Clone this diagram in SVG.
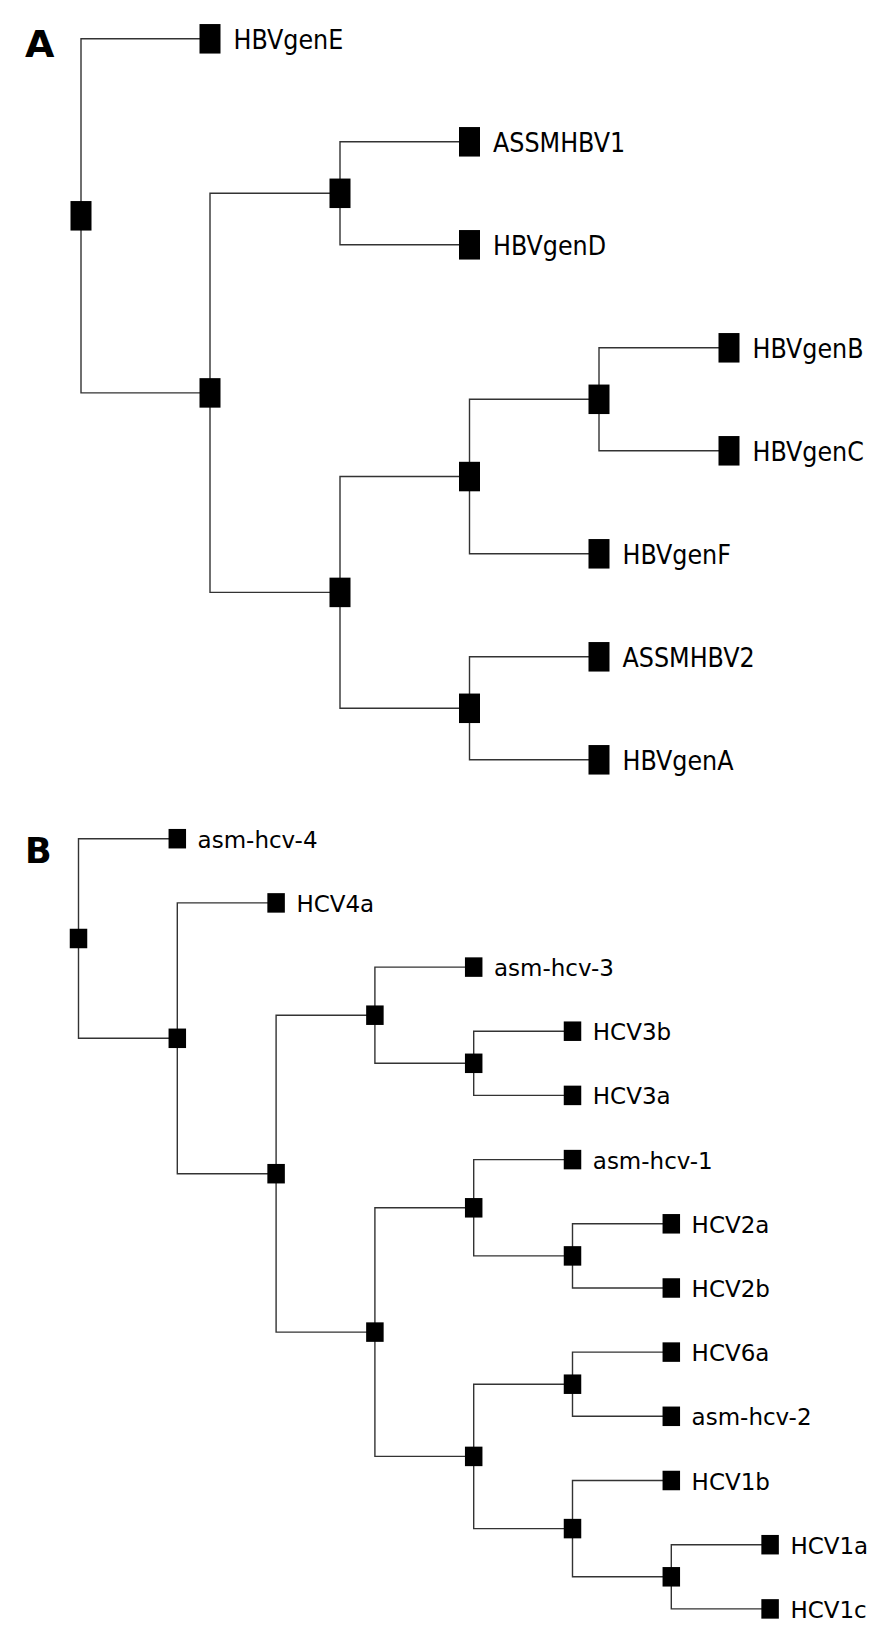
<svg xmlns="http://www.w3.org/2000/svg" width="886" height="1642" viewBox="0 0 886 1642">
<style>
.bg{fill:#fff}
.ln{fill:none;stroke:#333;stroke-width:1.4}
.na{fill:#000;width:21px;height:29.5px}
.nb{fill:#000;width:17.5px;height:19.5px}
.ta{font-family:"DejaVu Sans Condensed","DejaVu Sans",sans-serif;font-stretch:condensed;font-size:26.5px;fill:#000}
.tb{font-family:"DejaVu Sans",Verdana,sans-serif;font-size:23px;fill:#000}
.pl{font-family:"DejaVu Sans",sans-serif;font-weight:bold;fill:#000}
</style>
<rect class="bg" x="0" y="0" width="886" height="1642"/>
<text class="pl" x="25" y="57" font-size="38">A</text>
<text class="pl" x="25" y="862.5" font-size="35">B</text>
<g id="connectors">
<path class="ln" d="M210 38.8 H81 V392.9 H210"/>
<path class="ln" d="M340 193.3 H210 V592.4 H340"/>
<path class="ln" d="M469.5 141.8 H340 V244.8 H469.5"/>
<path class="ln" d="M469.5 476.55 H340 V708.3 H469.5"/>
<path class="ln" d="M599 399.3 H469.5 V553.8 H599"/>
<path class="ln" d="M729 347.8 H599 V450.8 H729"/>
<path class="ln" d="M599 656.8 H469.5 V759.8 H599"/>
<path class="ln" d="M177.3 838.7 H78.5 V1038.3 H177.3"/>
<path class="ln" d="M276.1 902.9 H177.3 V1173.7 H276.1"/>
<path class="ln" d="M374.9 1015.2 H276.1 V1332.1 H374.9"/>
<path class="ln" d="M473.7 967.1 H374.9 V1063.3 H473.7"/>
<path class="ln" d="M572.5 1031.2 H473.7 V1095.4 H572.5"/>
<path class="ln" d="M473.7 1207.8 H374.9 V1456.4 H473.7"/>
<path class="ln" d="M572.5 1159.6 H473.7 V1255.9 H572.5"/>
<path class="ln" d="M671.3 1223.8 H572.5 V1288 H671.3"/>
<path class="ln" d="M572.5 1384.2 H473.7 V1528.6 H572.5"/>
<path class="ln" d="M671.3 1352.1 H572.5 V1416.3 H671.3"/>
<path class="ln" d="M671.3 1480.5 H572.5 V1576.8 H671.3"/>
<path class="ln" d="M770.1 1544.7 H671.3 V1608.9 H770.1"/>
</g>
<g id="a-root"><rect class="na" x="70.5" y="201.05" width="21" height="29.5"/></g>
<g id="a-n1"><rect class="na" x="199.5" y="378.15" width="21" height="29.5"/></g>
<g id="a-n2"><rect class="na" x="329.5" y="178.55" width="21" height="29.5"/></g>
<g id="a-n3"><rect class="na" x="329.5" y="577.65" width="21" height="29.5"/></g>
<g id="a-n4"><rect class="na" x="459" y="461.8" width="21" height="29.5"/></g>
<g id="a-n5"><rect class="na" x="588.5" y="384.55" width="21" height="29.5"/></g>
<g id="a-n6"><rect class="na" x="459" y="693.55" width="21" height="29.5"/></g>
<g id="a-HBVgenE"><rect class="na" x="199.5" y="24.05" width="21" height="29.5"/><text class="ta" x="233.5" y="48.8">HBVgenE</text></g>
<g id="a-ASSMHBV1"><rect class="na" x="459" y="127.05" width="21" height="29.5"/><text class="ta" x="493" y="151.8">ASSMHBV1</text></g>
<g id="a-HBVgenD"><rect class="na" x="459" y="230.05" width="21" height="29.5"/><text class="ta" x="493" y="254.8">HBVgenD</text></g>
<g id="a-HBVgenB"><rect class="na" x="718.5" y="333.05" width="21" height="29.5"/><text class="ta" x="752.5" y="357.8">HBVgenB</text></g>
<g id="a-HBVgenC"><rect class="na" x="718.5" y="436.05" width="21" height="29.5"/><text class="ta" x="752.5" y="460.8">HBVgenC</text></g>
<g id="a-HBVgenF"><rect class="na" x="588.5" y="539.05" width="21" height="29.5"/><text class="ta" x="622.5" y="563.8">HBVgenF</text></g>
<g id="a-ASSMHBV2"><rect class="na" x="588.5" y="642.05" width="21" height="29.5"/><text class="ta" x="622.5" y="666.8">ASSMHBV2</text></g>
<g id="a-HBVgenA"><rect class="na" x="588.5" y="745.05" width="21" height="29.5"/><text class="ta" x="622.5" y="769.8">HBVgenA</text></g>
<g id="b-root"><rect class="nb" x="69.75" y="928.75" width="17.5" height="19.5"/></g>
<g id="b-n1"><rect class="nb" x="168.55" y="1028.55" width="17.5" height="19.5"/></g>
<g id="b-n2"><rect class="nb" x="267.35" y="1163.95" width="17.5" height="19.5"/></g>
<g id="b-n3"><rect class="nb" x="366.15" y="1005.45" width="17.5" height="19.5"/></g>
<g id="b-n4"><rect class="nb" x="366.15" y="1322.35" width="17.5" height="19.5"/></g>
<g id="b-n5"><rect class="nb" x="464.95" y="1053.55" width="17.5" height="19.5"/></g>
<g id="b-n6"><rect class="nb" x="464.95" y="1198.05" width="17.5" height="19.5"/></g>
<g id="b-n7"><rect class="nb" x="464.95" y="1446.65" width="17.5" height="19.5"/></g>
<g id="b-n8"><rect class="nb" x="563.75" y="1246.15" width="17.5" height="19.5"/></g>
<g id="b-n9"><rect class="nb" x="563.75" y="1374.45" width="17.5" height="19.5"/></g>
<g id="b-n10"><rect class="nb" x="563.75" y="1518.85" width="17.5" height="19.5"/></g>
<g id="b-n11"><rect class="nb" x="662.55" y="1567.05" width="17.5" height="19.5"/></g>
<g id="b-asm-hcv-4"><rect class="nb" x="168.55" y="828.95" width="17.5" height="19.5"/><text class="tb" x="197.6" y="847.7">asm-hcv-4</text></g>
<g id="b-HCV4a"><rect class="nb" x="267.35" y="893.15" width="17.5" height="19.5"/><text class="tb" x="296.4" y="911.9">HCV4a</text></g>
<g id="b-asm-hcv-3"><rect class="nb" x="464.95" y="957.35" width="17.5" height="19.5"/><text class="tb" x="494" y="976.1">asm-hcv-3</text></g>
<g id="b-HCV3b"><rect class="nb" x="563.75" y="1021.45" width="17.5" height="19.5"/><text class="tb" x="592.8" y="1040.2">HCV3b</text></g>
<g id="b-HCV3a"><rect class="nb" x="563.75" y="1085.65" width="17.5" height="19.5"/><text class="tb" x="592.8" y="1104.4">HCV3a</text></g>
<g id="b-asm-hcv-1"><rect class="nb" x="563.75" y="1149.85" width="17.5" height="19.5"/><text class="tb" x="592.8" y="1168.6">asm-hcv-1</text></g>
<g id="b-HCV2a"><rect class="nb" x="662.55" y="1214.05" width="17.5" height="19.5"/><text class="tb" x="691.6" y="1232.8">HCV2a</text></g>
<g id="b-HCV2b"><rect class="nb" x="662.55" y="1278.25" width="17.5" height="19.5"/><text class="tb" x="691.6" y="1297">HCV2b</text></g>
<g id="b-HCV6a"><rect class="nb" x="662.55" y="1342.35" width="17.5" height="19.5"/><text class="tb" x="691.6" y="1361.1">HCV6a</text></g>
<g id="b-asm-hcv-2"><rect class="nb" x="662.55" y="1406.55" width="17.5" height="19.5"/><text class="tb" x="691.6" y="1425.3">asm-hcv-2</text></g>
<g id="b-HCV1b"><rect class="nb" x="662.55" y="1470.75" width="17.5" height="19.5"/><text class="tb" x="691.6" y="1489.5">HCV1b</text></g>
<g id="b-HCV1a"><rect class="nb" x="761.35" y="1534.95" width="17.5" height="19.5"/><text class="tb" x="790.4" y="1553.7">HCV1a</text></g>
<g id="b-HCV1c"><rect class="nb" x="761.35" y="1599.15" width="17.5" height="19.5"/><text class="tb" x="790.4" y="1617.9">HCV1c</text></g>
</svg>
